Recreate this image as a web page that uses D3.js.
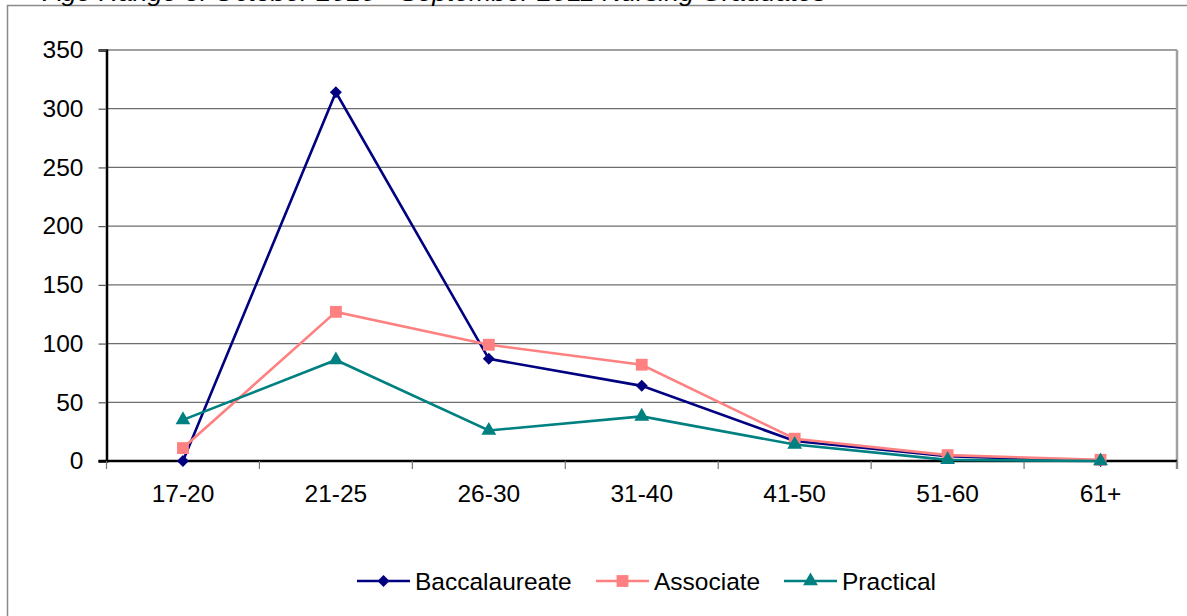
<!DOCTYPE html>
<html><head><meta charset="utf-8">
<script src="https://cdn.jsdelivr.net/npm/d3@7"></script>
<style>body{margin:0;background:#fff}svg{display:block;font-family:Arial,"Liberation Sans",sans-serif}</style>
</head><body>
<svg id="c" width="1187" height="616"></svg>
<script>
const title = "Age Range of October 2010 - September 2011 Nursing Graduates";
const categories = ["17-20","21-25","26-30","31-40","41-50","51-60","61+"];
const baccalaureate = [0, 314, 87, 64, 17, 4, 0];
const associate = [11, 127, 99, 82, 19, 5, 1];
const practical = [35, 86, 26, 38, 14, 1, 0];
const yTicks = [0, 50, 100, 150, 200, 250, 300, 350];
const seriesNames = ["Baccalaureate", "Associate", "Practical"];

const diamond = {draw(ctx, size) { const r = Math.sqrt(size) / 2; ctx.moveTo(0, -r); ctx.lineTo(r, 0); ctx.lineTo(0, r); ctx.lineTo(-r, 0); ctx.closePath(); }};

const series = [
  {name: seriesNames[0], values: baccalaureate, color: "#000080", marker: diamond, msize: 144},
  {name: seriesNames[1], values: associate, color: "#FF8080", marker: d3.symbolSquare, msize: 140},
  {name: seriesNames[2], values: practical, color: "#008080", marker: d3.symbolTriangle, msize: 95}
];

const svg = d3.select("#c");
const L = 106.5, R = 1177, T = 50, B = 461;
const FS = 24.5;

// outer chart border
svg.append("rect").attr("x", 7.5).attr("y", 5.5).attr("width", 1250).attr("height", 700)
  .attr("fill", "none").attr("stroke", "#8a8a8a").attr("stroke-width", 1.5);

// title (clipped at the top edge, as in the reference)
svg.append("text").attr("x", 44).attr("y", 1).attr("font-size", 24).attr("font-style", "italic")
  .attr("textLength", 782).attr("lengthAdjust", "spacingAndGlyphs").attr("fill", "#000").text(title);

const x = d3.scaleBand().domain(categories).range([L, R]).padding(0);
const y = d3.scaleLinear().domain([0, 350]).range([B, T]);

// gridlines
svg.append("g").selectAll("line").data(yTicks.filter(v => v > 0 && v < 350)).join("line")
  .attr("x1", L).attr("x2", R).attr("y1", d => y(d)).attr("y2", d => y(d))
  .attr("stroke", "#6e6e6e").attr("stroke-width", 1.2);
// plot area top and right border
svg.append("line").attr("x1", L).attr("x2", R).attr("y1", T).attr("y2", T).attr("stroke", "#a0a0a0").attr("stroke-width", 2);
svg.append("line").attr("x1", R).attr("x2", R).attr("y1", T).attr("y2", B + 8).attr("stroke", "#a0a0a0").attr("stroke-width", 2.5);

// y axis
const yAxis = d3.axisLeft(y).tickValues(yTicks).tickSize(8).tickPadding(15);
const gy = svg.append("g").attr("transform", `translate(${L},0)`).call(yAxis);
gy.select(".domain").attr("stroke", "#000").attr("stroke-width", 2.5);
gy.selectAll(".tick line").attr("stroke", "#555").attr("stroke-width", 1.2);
gy.selectAll("text").attr("font-size", FS).attr("fill", "#000").attr("font-family", "Arial, 'Liberation Sans', sans-serif");

// x axis
const gx = svg.append("g").attr("transform", `translate(0,${B})`);
gx.append("line").attr("x1", L - 8).attr("x2", R).attr("y1", 0).attr("y2", 0).attr("stroke", "#000").attr("stroke-width", 2.5);
const bounds = categories.map(c => x(c)).concat([R]);
gx.selectAll(".xt").data(bounds).join("line").attr("class", "xt")
  .attr("x1", d => d).attr("x2", d => d).attr("y1", 0).attr("y2", 8).attr("stroke", "#777").attr("stroke-width", 1.2);
gx.selectAll(".xl").data(categories).join("text").attr("class", "xl")
  .attr("x", d => x(d) + x.bandwidth() / 2).attr("y", 41).attr("text-anchor", "middle")
  .attr("font-size", FS).attr("fill", "#000").text(d => d);

const cx = c => x(c) + x.bandwidth() / 2;
const line = d3.line().x((d, i) => cx(categories[i])).y(d => y(d));

series.forEach(s => {
  const g = svg.append("g");
  g.append("path").datum(s.values).attr("d", line).attr("fill", "none")
    .attr("stroke", s.color).attr("stroke-width", 2.6);
  g.selectAll("path.m").data(s.values).join("path").attr("class", "m")
    .attr("d", d3.symbol().type(s.marker).size(s.msize))
    .attr("transform", (d, i) => `translate(${cx(categories[i])},${y(d)})`)
    .attr("fill", s.color);
});

// legend
const legX = [357, 596, 784];
const legY = 581;
series.forEach((s, i) => {
  const g = svg.append("g").attr("transform", `translate(${legX[i]},${legY})`);
  g.append("line").attr("x1", 0).attr("x2", 53).attr("y1", 0).attr("y2", 0).attr("stroke", s.color).attr("stroke-width", 2.6);
  g.append("path").attr("d", d3.symbol().type(s.marker).size(s.msize)).attr("transform", "translate(26.5,0)").attr("fill", s.color);
  g.append("text").attr("x", 58).attr("y", 9).attr("font-size", FS).attr("fill", "#000").text(s.name);
});
</script>
</body></html>
